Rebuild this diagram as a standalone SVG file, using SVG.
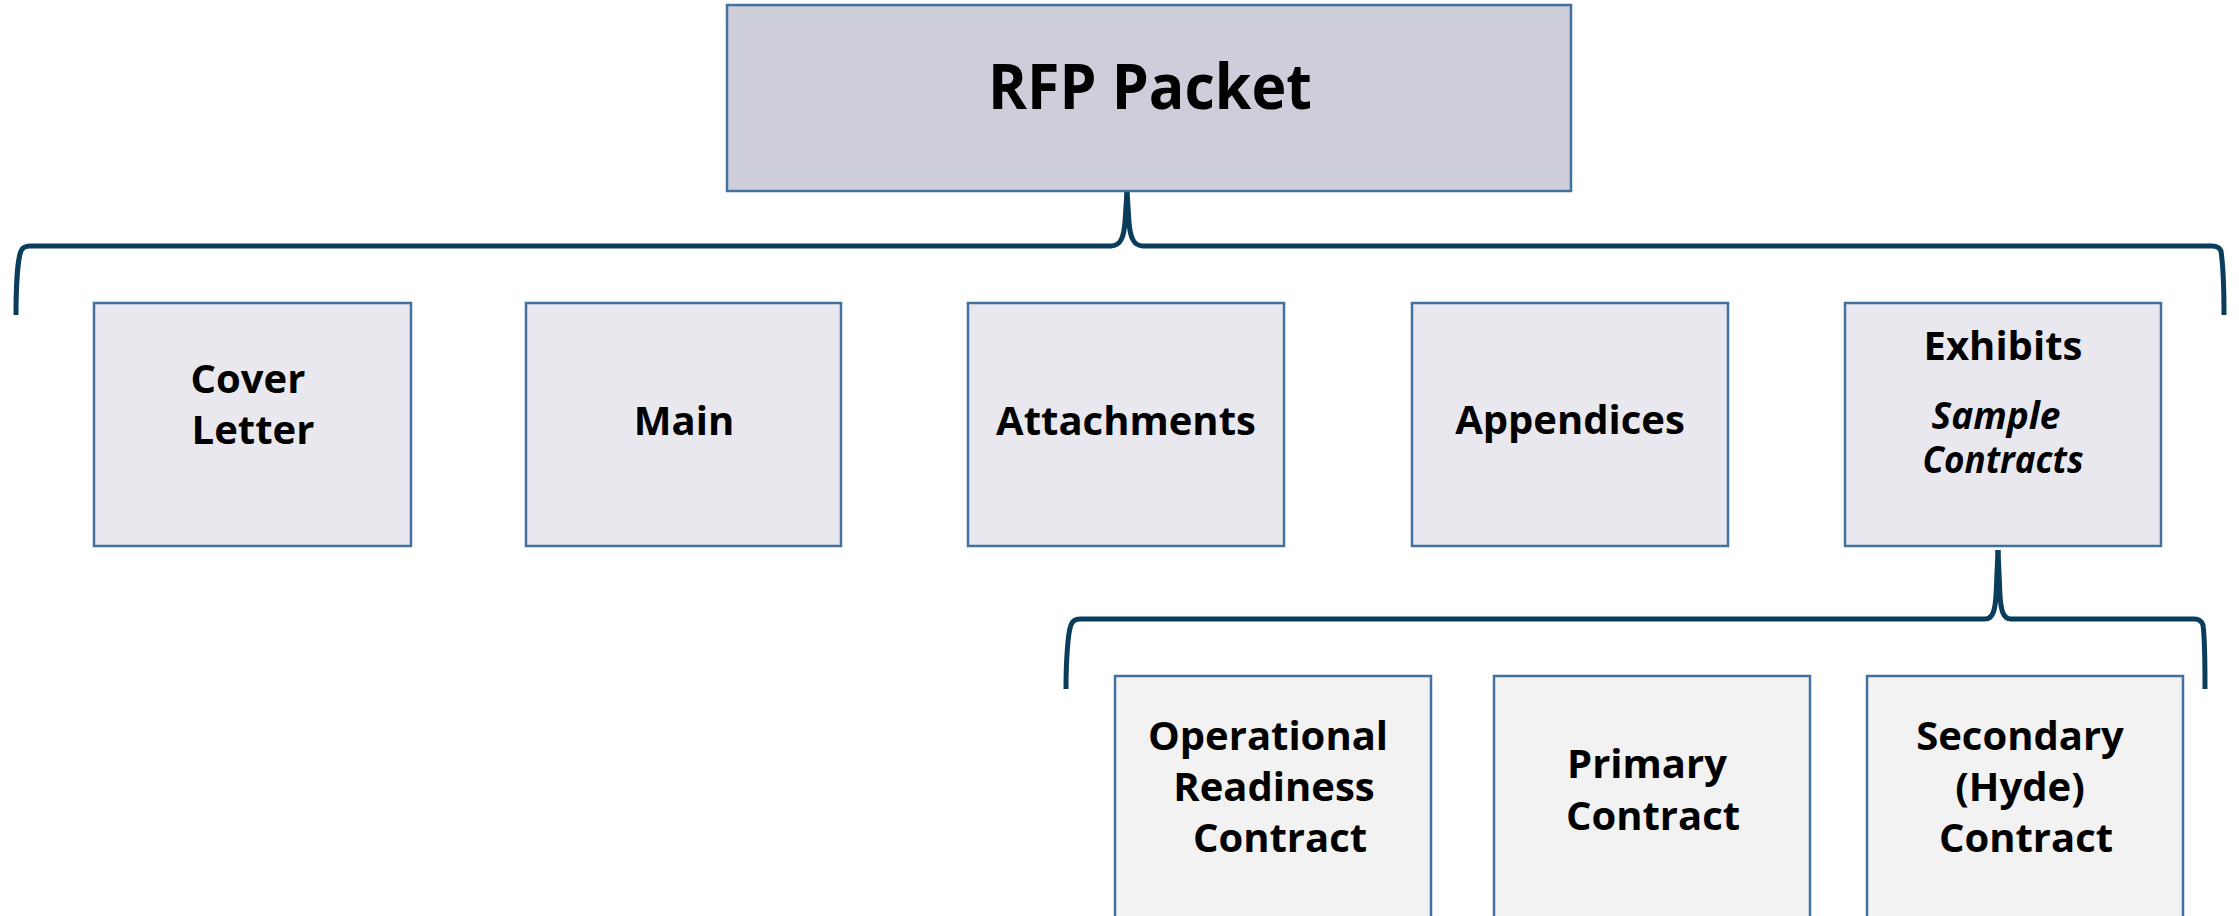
<svg xmlns="http://www.w3.org/2000/svg" width="2239" height="916" viewBox="0 0 2239 916">
<style>
.box{stroke:#41719C;stroke-width:2.5}
.root{fill:#CDCED9}
.lvl1{fill:#E8E8EE}
.lvl2{fill:#F2F2F2}
.t{font-family:"Open Sans","Noto Sans","Liberation Sans",sans-serif;font-weight:700;font-size:40px;fill:#000;text-anchor:middle}
.big{font-size:62px}
.it{font-style:italic;font-size:37px}
.br{fill:none;stroke:#0A3D5C;stroke-width:5;stroke-linecap:butt;stroke-linejoin:round}
</style>
<rect width="2239" height="916" fill="#FFFFFF"/>
<g id="connectors">
<path class="br" d="M16,315 C16,285 18,258 21,251 Q23,246 30,246 L1111,246 C1121,246 1124,236 1125,222 L1127,191"/>
<path class="br" d="M1127,191 L1129,222 C1130,236 1133,246 1143,246 L2212,246 Q2219,246 2221,251 C2222,258 2224,285 2224,315"/>
<path class="br" d="M1066,689 C1066,660 1068,632 1071,625 Q1073,619 1080,619 L1985,619 C1993,619 1995,610 1996,596 L1998,550"/>
<path class="br" d="M1998,550 L2000,596 C2001,610 2003,619 2011,619 L2194,619 Q2201,619 2203,625 C2204,632 2205,660 2205,689"/>
</g>
<g id="rfp-packet">
<rect class="box root" x="727" y="5" width="844" height="186"/>
<text class="t big" x="1150" y="109" textLength="324" lengthAdjust="spacingAndGlyphs">RFP Packet</text>
</g>
<g id="cover-letter">
<rect class="box lvl1" x="94" y="303" width="317" height="243"/>
<text class="t" x="248" y="393">Cover</text>
<text class="t" x="253" y="444">Letter</text>
</g>
<g id="main">
<rect class="box lvl1" x="526" y="303" width="315" height="243"/>
<text class="t" x="684" y="435">Main</text>
</g>
<g id="attachments">
<rect class="box lvl1" x="968" y="303" width="316" height="243"/>
<text class="t" x="1126" y="435">Attachments</text>
</g>
<g id="appendices">
<rect class="box lvl1" x="1412" y="303" width="316" height="243"/>
<text class="t" x="1570" y="434">Appendices</text>
</g>
<g id="exhibits">
<rect class="box lvl1" x="1845" y="303" width="316" height="243"/>
<text class="t" x="2003" y="360">Exhibits</text>
<text class="t it" x="1996" y="429" textLength="129" lengthAdjust="spacingAndGlyphs">Sample</text>
<text class="t it" x="2003" y="473" textLength="161" lengthAdjust="spacingAndGlyphs">Contracts</text>
</g>
<g id="operational-readiness-contract">
<rect class="box lvl2" x="1115" y="676" width="316" height="260"/>
<text class="t" x="1268" y="750">Operational</text>
<text class="t" x="1274" y="801">Readiness</text>
<text class="t" x="1280" y="852">Contract</text>
</g>
<g id="primary-contract">
<rect class="box lvl2" x="1494" y="676" width="316" height="260"/>
<text class="t" x="1647" y="778">Primary</text>
<text class="t" x="1653" y="830">Contract</text>
</g>
<g id="secondary-hyde-contract">
<rect class="box lvl2" x="1867" y="676" width="316" height="260"/>
<text class="t" x="2020" y="750">Secondary</text>
<text class="t" x="2020" y="801">(Hyde)</text>
<text class="t" x="2026" y="852">Contract</text>
</g>
</svg>
